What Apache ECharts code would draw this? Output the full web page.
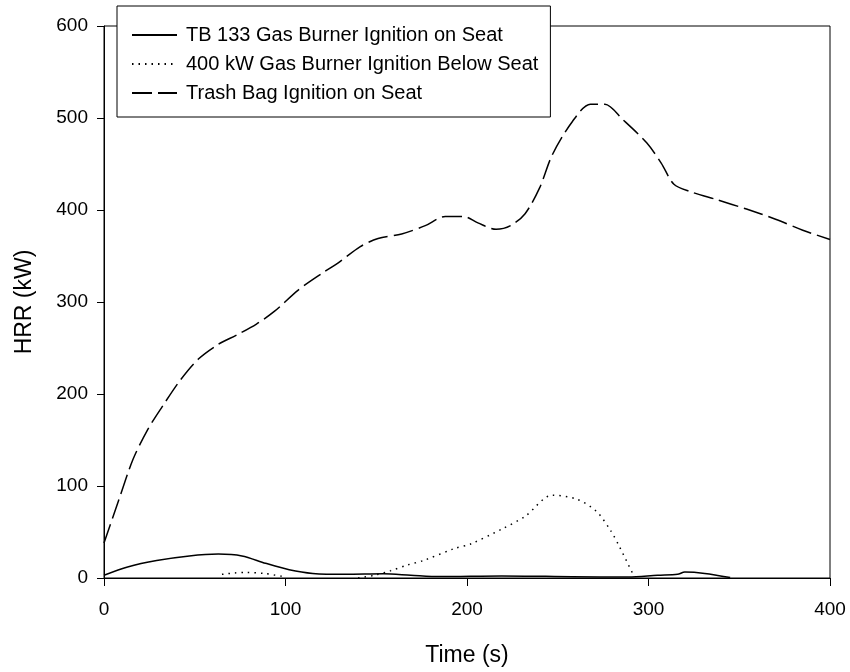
<!DOCTYPE html>
<html>
<head>
<meta charset="utf-8">
<script src="https://cdn.jsdelivr.net/npm/echarts@6/dist/echarts.min.js"></script>
<style>
html,body{margin:0;padding:0;background:#fff;}
#chart{width:850px;height:672px;}
</style>
</head>
<body>
<div id="chart"></div>
<script>
// Series names
var seriesNames = [
  'TB 133 Gas Burner Ignition on Seat',
  '400 kW Gas Burner Ignition Below Seat',
  'Trash Bag Ignition on Seat'
];

// TB 133 Gas Burner Ignition on Seat (solid)
var tbTime = [0, 13, 29, 47, 63, 76, 89, 102, 115, 133, 154, 169, 185, 219, 258, 289, 305, 316, 320, 331, 345];
var tbHRR  = [3, 12, 19, 24, 26, 24, 16, 9, 5, 4, 4.5, 3, 1.5, 2.3, 1.4, 1, 3, 4, 6.5, 5, 0.5];

// 400 kW Gas Burner Ignition Below Seat (dotted) - null marks the gap
var gbTime = [65, 72, 78, 88, 99, 120, 140, 149, 158, 167, 176, 193, 202, 219, 232, 247, 260, 271, 279, 284, 291];
var gbHRR  = [4, 5.5, 6, 5, 1.5, null, 0, 3, 8, 14, 19, 32, 37, 53, 67, 90, 86, 73, 52, 34, 6];

// Trash Bag Ignition on Seat (dashed)
var trTime = [0, 8, 16, 24, 32, 42, 52, 63, 73, 84, 94, 107, 120, 130, 141, 151, 164, 177, 188, 198, 206, 216, 224, 232, 240, 247, 258, 268, 276, 286, 299, 307, 314, 323, 338, 354, 370, 385, 400];
var trHRR  = [38, 84, 129, 161, 186, 215, 238, 254, 264, 276, 290, 313, 331, 344, 360, 369, 374, 383, 393, 393, 386, 379, 383, 396, 424, 460, 496, 515, 515, 498, 473, 451, 428, 420, 411, 401, 390, 378, 368];

// Axis ticks
var xTicks = [0, 100, 200, 300, 400];
var yTicks = [0, 100, 200, 300, 400, 500, 600];

function pairs(xs, ys) {
  return xs.map(function (x, i) { return [x, ys[i] === null ? '-' : ys[i]]; });
}

var chart = echarts.init(document.getElementById('chart'), null, {renderer: 'canvas'});
var font = 'Liberation Sans, Arial, sans-serif';

chart.setOption({
  animation: false,
  backgroundColor: '#fff',
  grid: {
    left: 104, right: 20, top: 26, bottom: 94,
    show: true, borderColor: '#000', borderWidth: 1, backgroundColor: 'transparent'
  },
  legend: {
    orient: 'vertical',
    left: 117, top: 6,
    padding: [19, 12, 14, 14],
    itemWidth: 45, itemHeight: 14, itemGap: 9,
    backgroundColor: '#fff',
    borderColor: '#000', borderWidth: 1,
    itemStyle: {opacity: 0},
    textStyle: {fontFamily: font, fontSize: 20, color: '#000', padding: [0, 0, 0, 4]},
    data: seriesNames
  },
  xAxis: {
    type: 'value',
    min: xTicks[0], max: xTicks[xTicks.length - 1], interval: 100,
    name: 'Time (s)', nameLocation: 'middle', nameGap: 66,
    nameTextStyle: {fontFamily: font, fontSize: 23, color: '#000'},
    axisLine: {show: true, onZero: false, lineStyle: {color: '#000', width: 1}},
    axisTick: {show: true, inside: false, length: 8, lineStyle: {color: '#000'}},
    axisLabel: {fontFamily: font, fontSize: 19, color: '#000', margin: 22},
    splitLine: {show: false}
  },
  yAxis: {
    type: 'value',
    min: yTicks[0], max: yTicks[yTicks.length - 1], interval: 100,
    name: 'HRR (kW)', nameLocation: 'middle', nameGap: 68,
    nameTextStyle: {fontFamily: font, fontSize: 23, color: '#000'},
    axisLine: {show: true, onZero: false, lineStyle: {color: '#000', width: 1}},
    axisTick: {show: true, inside: false, length: 7, lineStyle: {color: '#000'}},
    axisLabel: {fontFamily: font, fontSize: 19, color: '#000', margin: 16},
    splitLine: {show: false}
  },
  series: [
    {
      name: seriesNames[0], type: 'line', symbol: 'none', smooth: 0.3,
      lineStyle: {color: '#000', width: 1.5, type: 'solid'},
      itemStyle: {color: '#000'},
      data: pairs(tbTime, tbHRR)
    },
    {
      name: seriesNames[1], type: 'line', symbol: 'none', smooth: 0.3, connectNulls: false,
      lineStyle: {color: '#000', width: 1.5, type: [1.5, 5]},
      itemStyle: {color: '#000'},
      data: pairs(gbTime, gbHRR)
    },
    {
      name: seriesNames[2], type: 'line', symbol: 'none', smooth: 0.3,
      lineStyle: {color: '#000', width: 1.5, type: [20, 6]},
      itemStyle: {color: '#000'},
      data: pairs(trTime, trHRR)
    }
  ]
});
</script>
</body>
</html>
